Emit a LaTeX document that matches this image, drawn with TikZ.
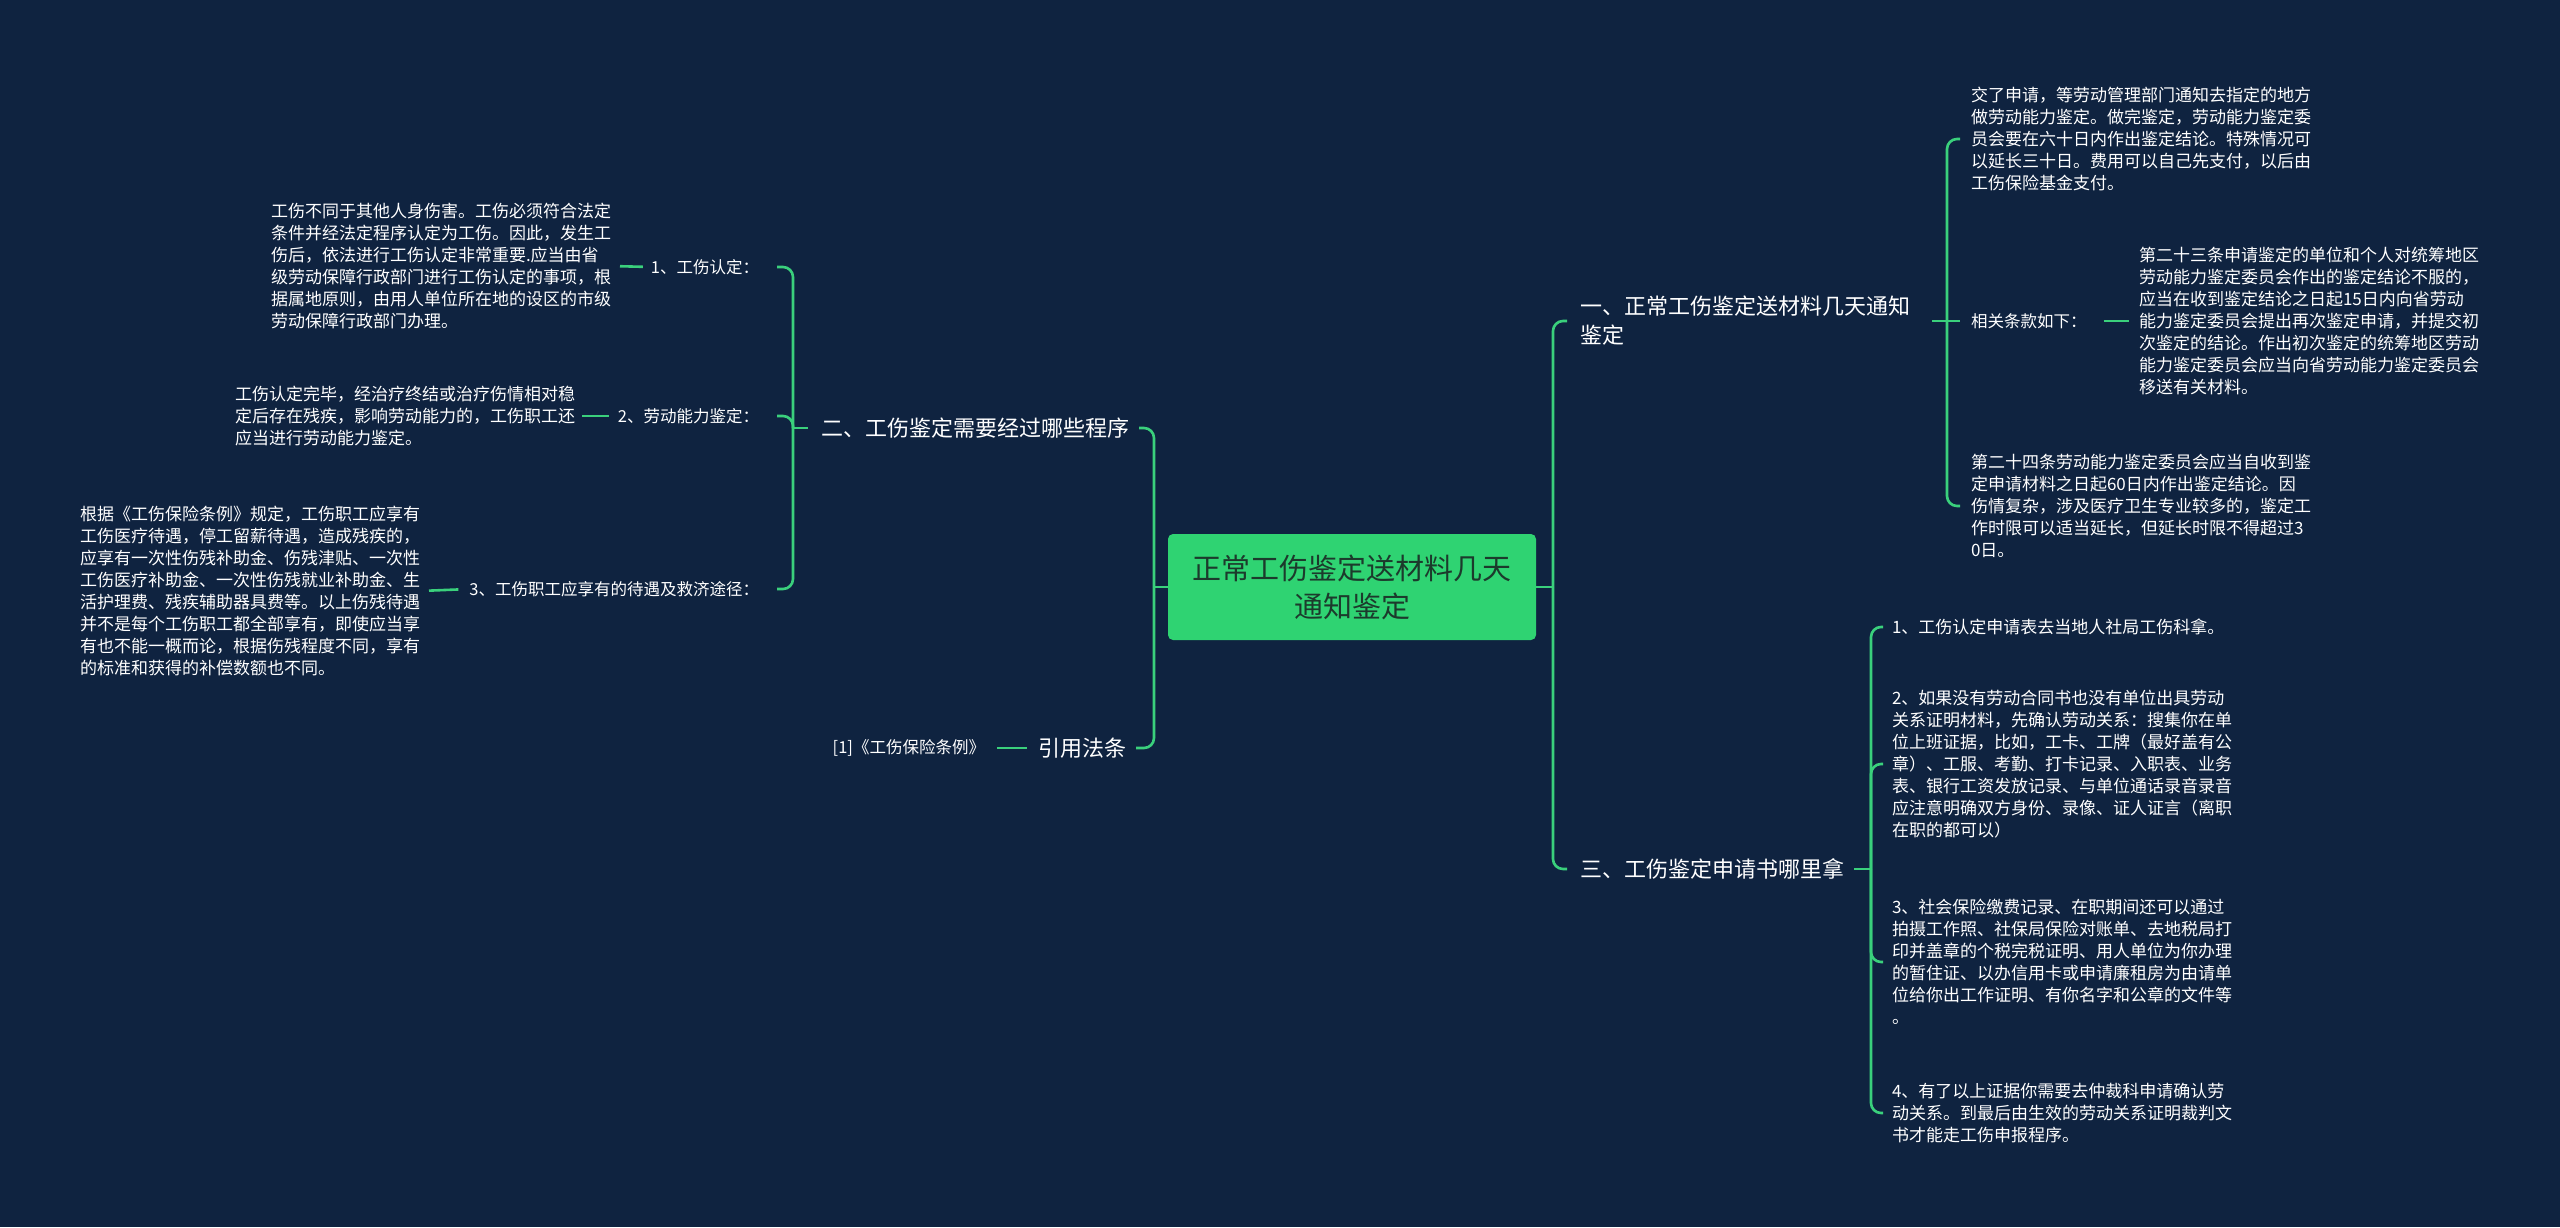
\documentclass[tikz,border=0pt]{standalone}
\usepackage{fontspec}
\setmainfont{Noto Sans CJK SC}
\definecolor{bgc}{HTML}{0F2340}
\definecolor{lnc}{HTML}{3AD07C}
\definecolor{boxc}{HTML}{2FD372}
\definecolor{boxt}{HTML}{1C3A2C}
\begin{document}
\begin{tikzpicture}[x=1pt,y=-1pt,
  every node/.style={inner sep=0pt,outer sep=0pt,text=white,align=left},
  small/.style={font=\fontsize{17}{22}\selectfont},
  lab/.style={font=\fontsize{16.5}{22}\selectfont},
  big/.style={font=\fontsize{22}{29}\selectfont},
  branch/.style={draw=lnc,line width=2.6pt,rounded corners=10pt},
  tick/.style={draw=lnc,line width=2.6pt}]
\fill[bgc] (0,0) rectangle (2560,1227);
\useasboundingbox (0,0) rectangle (2560,1227);

% centre
\node[fill=boxc,rounded corners=5pt,minimum width=368pt,minimum height=106pt,align=center,text=boxt,font=\fontsize{29}{38}\selectfont] (C) at (1352,587) {正常工伤鉴定送材料几天\\通知鉴定};

% trunk coordinates
\coordinate (cl) at (1154,587);
\coordinate (cr) at (1553,587);
\coordinate (t2) at (793,428);
\coordinate (t1) at (1947,321);
\coordinate (t3) at (1871,869);

% level 1
\node[big,anchor=west] (N2) at (821,428) {二、工伤鉴定需要经过哪些程序};
\node[big,anchor=west] (N4) at (1038,748) {引用法条};
\node[big,anchor=west] (N1) at (1580,321) {一、正常工伤鉴定送材料几天通知\\鉴定};
\node[big,anchor=west] (N3) at (1580,869) {三、工伤鉴定申请书哪里拿};

% left details
\node[lab,anchor=east] (L1) at (759,267) {1、工伤认定：};
\node[lab,anchor=east] (L2) at (759,416) {2、劳动能力鉴定：};
\node[lab,anchor=east] (L3) at (759,589) {3、工伤职工应享有的待遇及救济途径：};
\node[small,anchor=east] (A) at (611,266) {工伤不同于其他人身伤害。工伤必须符合法定\\条件并经法定程序认定为工伤。因此，发生工\\伤后，依法进行工伤认定非常重要.应当由省\\级劳动保障行政部门进行工伤认定的事项，根\\据属地原则，由用人单位所在地的设区的市级\\劳动保障行政部门办理。};
\node[small,anchor=east] (B) at (575,416) {工伤认定完毕，经治疗终结或治疗伤情相对稳\\定后存在残疾，影响劳动能力的，工伤职工还\\应当进行劳动能力鉴定。};
\node[small,anchor=east] (Cd) at (420,591) {根据《工伤保险条例》规定，工伤职工应享有\\工伤医疗待遇，停工留薪待遇，造成残疾的，\\应享有一次性伤残补助金、伤残津贴、一次性\\工伤医疗补助金、一次性伤残就业补助金、生\\活护理费、残疾辅助器具费等。以上伤残待遇\\并不是每个工伤职工都全部享有，即使应当享\\有也不能一概而论，根据伤残程度不同，享有\\的标准和获得的补偿数额也不同。};
\node[lab,anchor=east] (Ref) at (985,748) {[1]《工伤保险条例》};

% right details
\node[small,anchor=west] (D) at (1971,139) {交了申请，等劳动管理部门通知去指定的地方\\做劳动能力鉴定。做完鉴定，劳动能力鉴定委\\员会要在六十日内作出鉴定结论。特殊情况可\\以延长三十日。费用可以自己先支付，以后由\\工伤保险基金支付。};
\node[lab,anchor=west] (R) at (1971,321) {相关条款如下：};
\node[small,anchor=west] (E) at (2139,321) {第二十三条申请鉴定的单位和个人对统筹地区\\劳动能力鉴定委员会作出的鉴定结论不服的，\\应当在收到鉴定结论之日起15日内向省劳动\\能力鉴定委员会提出再次鉴定申请，并提交初\\次鉴定的结论。作出初次鉴定的统筹地区劳动\\能力鉴定委员会应当向省劳动能力鉴定委员会\\移送有关材料。};
\node[small,anchor=west] (F) at (1971,506) {第二十四条劳动能力鉴定委员会应当自收到鉴\\定申请材料之日起60日内作出鉴定结论。因\\伤情复杂，涉及医疗卫生专业较多的，鉴定工\\作时限可以适当延长，但延长时限不得超过3\\0日。};
\node[small,anchor=west] (G) at (1892,627) {1、工伤认定申请表去当地人社局工伤科拿。};
\node[small,anchor=west] (H) at (1892,764) {2、如果没有劳动合同书也没有单位出具劳动\\关系证明材料，先确认劳动关系：搜集你在单\\位上班证据，比如，工卡、工牌（最好盖有公\\章）、工服、考勤、打卡记录、入职表、业务\\表、银行工资发放记录、与单位通话录音录音\\应注意明确双方身份、录像、证人证言（离职\\在职的都可以）};
\node[small,anchor=west] (I) at (1892,962) {3、社会保险缴费记录、在职期间还可以通过\\拍摄工作照、社保局保险对账单、去地税局打\\印并盖章的个税完税证明、用人单位为你办理\\的暂住证、以办信用卡或申请廉租房为由请单\\位给你出工作证明、有你名字和公章的文件等\\。};
\node[small,anchor=west] (J) at (1892,1113) {4、有了以上证据你需要去仲裁科申请确认劳\\动关系。到最后由生效的劳动关系证明裁判文\\书才能走工伤申报程序。};

% centre connectors
\draw[tick] (C.west) -- (cl);
\draw[tick] (C.east) -- (cr);
\draw[branch,shorten <=10pt] (N2.east) -| (cl);
\draw[branch,shorten <=10pt] (N4.east) -| (cl);
\draw[branch,shorten <=13pt] (N1.west) -| (cr);
\draw[branch,shorten <=13pt] (N3.west) -| (cr);

% left subtree
\draw[tick,shorten <=13pt] (N2.west) -- (t2);
\draw[branch,shorten <=18pt] (L1.east) -| (t2);
\draw[branch,shorten <=18pt] (L2.east) -| (t2);
\draw[branch,shorten <=18pt] (L3.east) -| (t2);
\draw[tick,shorten <=9pt,shorten >=8pt] (A.east) -- (L1.west);
\draw[tick,shorten <=7pt,shorten >=9pt] (B.east) -- (L2.west);
\draw[tick,shorten <=9pt,shorten >=11pt] (Cd.east) -- (L3.west);
\draw[tick,shorten <=12pt,shorten >=11pt] (Ref.east) -- (N4.west);

% right subtree one
\draw[tick,shorten <=22pt] (N1.east) -- (t1);
\draw[branch,shorten <=11pt] (D.west) -| (t1);
\draw[tick,shorten <=11pt] (R.west) -- (t1);
\draw[branch,shorten <=11pt] (F.west) -| (t1);
\draw[tick,shorten <=17pt,shorten >=10pt] (R.east) -- (E.west);

% right subtree three
\draw[tick,shorten <=10pt] (N3.east) -- (t3);
\draw[branch,shorten <=9pt] (G.west) -| (t3);
\draw[branch,shorten <=9pt] (H.west) -| (t3);
\draw[branch,shorten <=9pt] (I.west) -| (t3);
\draw[branch,shorten <=9pt] (J.west) -| (t3);
\end{tikzpicture}
\end{document}
